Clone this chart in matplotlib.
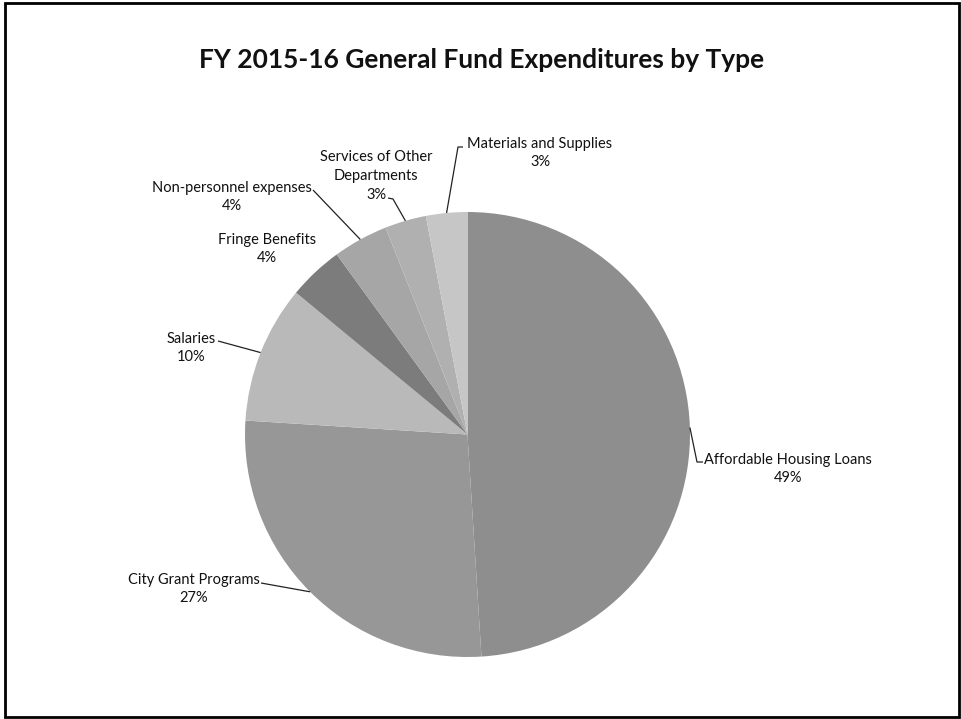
import numpy as np
import matplotlib
matplotlib.use("Agg")
import matplotlib.pyplot as plt
from matplotlib.patches import Rectangle

categories = ["Affordable Housing Loans", "City Grant Programs", "Salaries",
              "Fringe Benefits", "Non-personnel expenses",
              "Services of Other\nDepartments", "Materials and Supplies"]
values = [49, 27, 10, 4, 4, 3, 3]
colors = ["#8e8e8e", "#979797", "#b9b9b9", "#7c7c7c", "#a6a6a6", "#b0b0b0", "#c6c6c6"]
title = "FY 2015-16 General Fund Expenditures by Type"

W, H = 962, 719
plt.rcParams['font.family'] = ['Lato', 'DejaVu Sans']
fig = plt.figure(figsize=(W / 100, H / 100), dpi=100)
ax = fig.add_axes([0, 0, 1, 1])

cx, cy, r = 467.5, H - 434.5, 222.5
wedges, _ = ax.pie(values, colors=colors, startangle=90, counterclock=False,
                   center=(cx, cy), radius=r, frame=True,
                   wedgeprops=dict(linewidth=0))
ax.set_xlim(0, W)
ax.set_ylim(0, H)
ax.set_aspect("equal")
ax.axis("off")

# label layout (pixel coords from top-left): text block centre, leader start points
layout = {
    0: dict(tx=788, ty=469, lead=[(703, 462), (697, 462)]),
    1: dict(tx=194, ty=589, lead=[(261, 583)]),
    2: dict(tx=191, ty=348, lead=[(218, 341)]),
    3: dict(tx=267, ty=249, lead=None),
    4: dict(tx=232, ty=197, lead=[(313, 190)]),
    5: dict(tx=376, ty=176, lead=[(388, 198), (393, 199)]),
    6: dict(tx=540, ty=153, lead=[(463, 147), (458, 147)]),
}

cum = np.cumsum([0] + values)
total = float(sum(values))
for i, (cat, v) in enumerate(zip(categories, values)):
    L = layout[i]
    ax.text(L["tx"], H - L["ty"], f"{cat}\n{v}%", ha="center", va="center",
            fontsize=10.5, color="#111111", linespacing=1.43)
    if L["lead"]:
        a0 = 90 - 360 * cum[i] / total
        a1 = 90 - 360 * cum[i + 1] / total
        am = np.deg2rad((a0 + a1) / 2)
        ex, ey = cx + r * np.cos(am), cy + r * np.sin(am)
        pts = [(x, H - y) for x, y in L["lead"]] + [(ex, ey)]
        xs, ys = zip(*pts)
        ax.plot(xs, ys, color="#222222", lw=0.9, solid_capstyle="butt")

ax.text(482, H - 68, title, ha="center", va="baseline",
        fontsize=19, fontweight="bold", color="#111111")

fig.patches.append(Rectangle((5 / W, 2 / H), (959 - 5) / W, (716 - 2) / H,
                             transform=fig.transFigure, fill=False,
                             edgecolor="black", linewidth=2))

fig.savefig("out.png", dpi=100, facecolor="white")
